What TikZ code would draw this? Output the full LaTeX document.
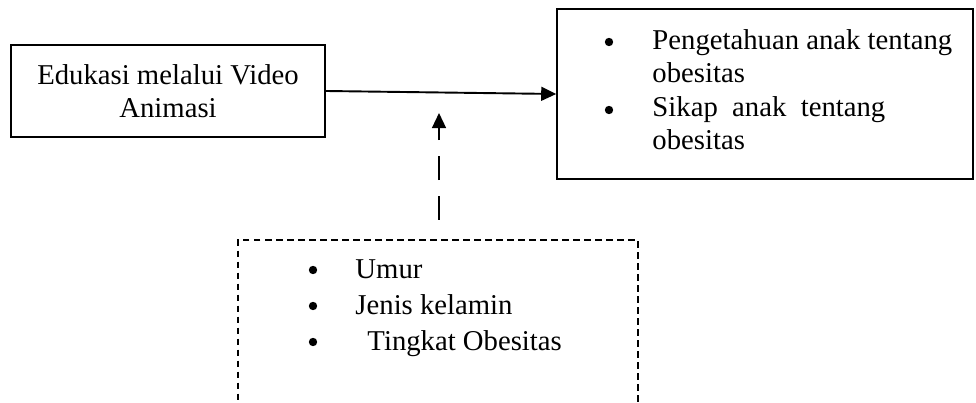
\documentclass[tikz,border=0pt]{standalone}
\usepackage{fontspec}
\setmainfont{Liberation Serif}
\usetikzlibrary{arrows.meta}
\tikzset{
    kotak/.style={draw, line width=0.6pt, align=center, inner sep=0pt,
        font=\fontsize{12}{13.8}\selectfont},
    putus/.style={draw, line width=0.8pt, dash pattern=on 2.8pt off 1.8pt},
    tulisan/.style={anchor=base west, inner sep=0pt, font=\fontsize{12}{13.8}\selectfont},
    titik/.style={circle, fill, inner sep=0pt, minimum size=3.5pt},
}
\begin{document}
\begin{tikzpicture}[>={Triangle[length=6.3pt,width=5.8pt]}, x=0.418pt, y=-0.418pt]
        \useasboundingbox (0,0) rectangle (976,403);
        \clip (0,0) rectangle (976,403);
        % kotak
        \node[kotak, minimum width=131.3pt, minimum height=38.5pt] (edukasi) at (168,91) {Edukasi melalui Video\\Animasi};
        \node[kotak, minimum width=173.9pt, minimum height=71.1pt] (hasil) at (765,94) {};
        \node[putus, minimum width=167.2pt, minimum height=75.2pt] (faktor) at (438,330) {};
        % isi kotak hasil
        \foreach \y in {42,110}
        {
            \node[titik] (bh\y) at (609,\y) {};
        }
        \node[tulisan] (h1) at (652,50) {Pengetahuan anak tentang};
        \node[tulisan] (h2) at (652,83) {obesitas};
        \node[tulisan] (h3) at (652,117) {Sikap\ \ anak\ \ tentang};
        \node[tulisan] (h4) at (652,150) {obesitas};
        % isi kotak faktor
        \foreach \y in {270,306,342}
        {
            \node[titik] (bf\y) at (313,\y) {};
        }
        \node[tulisan] (f1) at (355,279) {Umur};
        \node[tulisan] (f2) at (355,315) {Jenis kelamin};
        \node[tulisan] (f3) at (367,351) {Tingkat Obesitas};
        % panah
        \draw [->, line width=0.8pt] (edukasi.east)--(hasil.west);
        \coordinate (pangkal) at (439,220);
        \coordinate (ujung) at (439,113);
        \draw [->, line width=0.8pt, dash pattern=on 10pt off 6.7pt] (pangkal)--(ujung);
\end{tikzpicture}
\end{document}
